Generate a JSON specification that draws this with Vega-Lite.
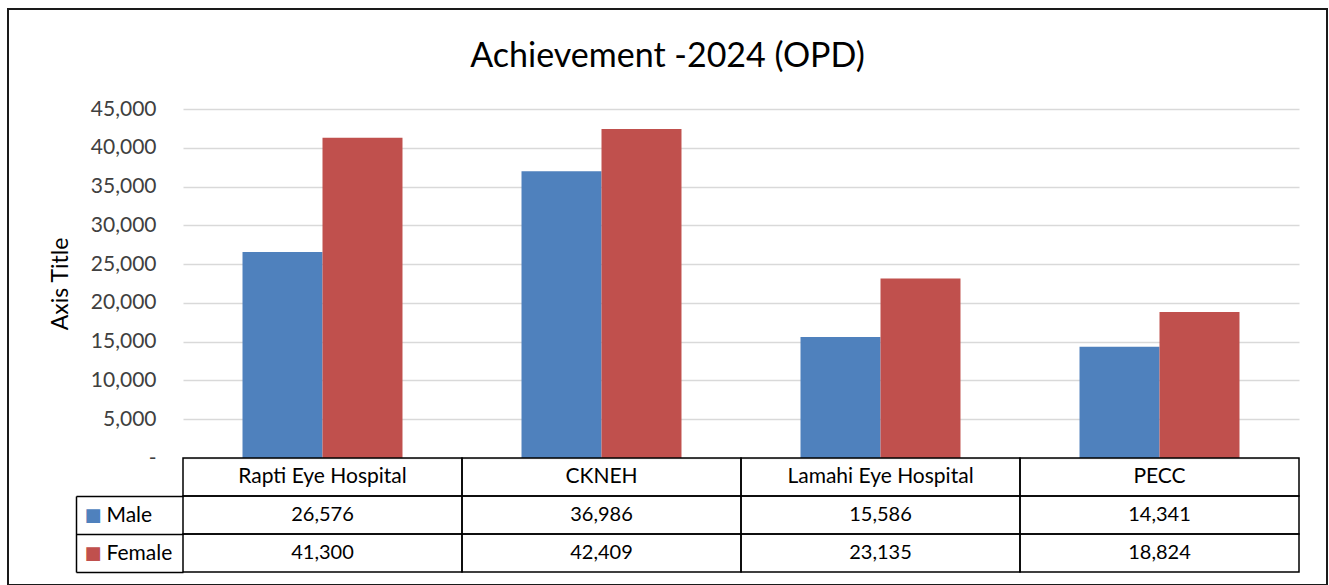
{
  "$schema": "https://vega.github.io/schema/vega-lite/v6.json",
  "autosize": "none",
  "width": 1319,
  "height": 576,
  "padding": {"left": 8, "top": 9, "right": 2, "bottom": 0},
  "background": "white",
  "config": {"view": {"stroke": "#1a1a1a", "strokeWidth": 2}, "font": "Lato"},
  "title": {"text": "Achievement -2024 (OPD)", "font": "Lato", "fontSize": 34, "fontWeight": "normal", "color": "#000000", "anchor": "middle", "frame": "group", "baseline": "alphabetic", "offset": -103},
  "data": {"values": [
    {"hospital": "Rapti Eye Hospital", "gender": "Male", "value": 26576},
    {"hospital": "CKNEH", "gender": "Male", "value": 36986},
    {"hospital": "Lamahi Eye Hospital", "gender": "Male", "value": 15586},
    {"hospital": "PECC", "gender": "Male", "value": 14341},
    {"hospital": "Rapti Eye Hospital", "gender": "Female", "value": 41300},
    {"hospital": "CKNEH", "gender": "Female", "value": 42409},
    {"hospital": "Lamahi Eye Hospital", "gender": "Female", "value": 23135},
    {"hospital": "PECC", "gender": "Female", "value": 18824}
  ]},
  "resolve": {"scale": {"y": "independent"}, "axis": {"y": "independent"}},
  "layer": [
    {
      "mark": {"type": "bar"},
      "encoding": {
        "x": {"field": "hospital", "type": "nominal", "sort": ["Rapti Eye Hospital", "CKNEH", "Lamahi Eye Hospital", "PECC"],
          "scale": {"domain": ["Rapti Eye Hospital", "CKNEH", "Lamahi Eye Hospital", "PECC"], "range": [175, 1291], "paddingInner": 0, "paddingOuter": 0},
          "axis": null},
        "xOffset": {"field": "gender", "type": "nominal", "sort": ["Male", "Female"], "scale": {"domain": ["Male", "Female"], "paddingInner": 0, "paddingOuter": 0.744}},
        "y": {"field": "value", "type": "quantitative",
          "scale": {"domain": [0, 45000], "range": [449, 100], "nice": false},
          "axis": {"orient": "left", "offset": -175, "values": [0, 5000, 10000, 15000, 20000, 25000, 30000, 35000, 40000, 45000], "format": ",.0f", "labelExpr": "datum.value == 0 ? '-\u00a0\u00a0\u00a0' : datum.label", "ticks": false, "tickSize": 0, "domain": false, "grid": true, "gridColor": "#d9d9d9", "gridWidth": 1.5, "labelFont": "Lato", "labelFontSize": 21, "labelColor": "#404040", "labelPadding": 27, "title": "Axis Title", "titleFont": "Lato", "titleFontSize": 23, "titleFontWeight": "normal", "titleColor": "#000000", "titlePadding": 18}},
        "color": {"field": "gender", "type": "nominal", "scale": {"domain": ["Male", "Female"], "range": ["#4f81bd", "#c0504d"]}, "legend": null}
      }
    },
    {
      "mark": {"type": "rect", "fill": "#ffffff", "fillOpacity": 0, "stroke": "#000000", "strokeWidth": 1.5},
      "encoding": {
        "x": {"field": "hospital", "type": "nominal", "sort": ["Rapti Eye Hospital", "CKNEH", "Lamahi Eye Hospital", "PECC"],
          "scale": {"domain": ["Rapti Eye Hospital", "CKNEH", "Lamahi Eye Hospital", "PECC"], "range": [175, 1291], "paddingInner": 0, "paddingOuter": 0}, "axis": null},
        "y": {"field": "gender", "type": "nominal", "sort": ["Male", "Female"],
          "scale": {"domain": ["Male", "Female"], "range": [487, 563], "paddingInner": 0, "paddingOuter": 0},
          "axis": {"orient": "left", "offset": -175, "zindex": 2, "title": null, "domain": false, "ticks": true, "tickBand": "extent", "tickSize": 107, "tickColor": "#000000", "tickWidth": 1.5, "labelAlign": "left", "labelBaseline": "middle", "labelPadding": -30, "labelFont": "Lato", "labelFontSize": 21, "labelColor": "#000000", "grid": false}}
      }
    },
    {
      "mark": {"type": "text", "font": "Lato", "fontSize": 20, "color": "#000000", "baseline": "middle", "align": "center"},
      "encoding": {
        "x": {"field": "hospital", "type": "nominal", "sort": ["Rapti Eye Hospital", "CKNEH", "Lamahi Eye Hospital", "PECC"],
          "scale": {"domain": ["Rapti Eye Hospital", "CKNEH", "Lamahi Eye Hospital", "PECC"], "range": [175, 1291], "paddingInner": 0, "paddingOuter": 0}, "axis": null},
        "y": {"field": "gender", "type": "nominal", "sort": ["Male", "Female"],
          "scale": {"domain": ["Male", "Female"], "range": [487, 563], "paddingInner": 0, "paddingOuter": 0},
          "axis": {"orient": "left", "offset": -68, "zindex": 2, "title": null, "domain": true, "domainColor": "#000000", "domainWidth": 1.5, "ticks": false, "tickSize": 0, "labelExpr": "'■'", "labelColor": {"condition": {"test": "datum.value === 'Male'", "value": "#4f81bd"}, "value": "#c0504d"}, "labelFont": "DejaVu Sans", "labelFontSize": 18, "labelAlign": "left", "labelBaseline": "middle", "labelPadding": -8, "grid": false}},
        "text": {"field": "value", "type": "quantitative", "format": ","}
      }
    },
    {
      "transform": [{"filter": "datum.gender === 'Male'"}],
      "mark": {"type": "rect", "fill": "#ffffff", "fillOpacity": 0, "stroke": "#000000", "strokeWidth": 1.5},
      "encoding": {
        "x": {"field": "hospital", "type": "nominal", "sort": ["Rapti Eye Hospital", "CKNEH", "Lamahi Eye Hospital", "PECC"],
          "scale": {"domain": ["Rapti Eye Hospital", "CKNEH", "Lamahi Eye Hospital", "PECC"], "range": [175, 1291], "paddingInner": 0, "paddingOuter": 0}, "axis": null},
        "y": {"datum": "Header", "type": "nominal", "scale": {"domain": ["Header"], "range": [449, 487], "paddingInner": 0, "paddingOuter": 0}, "axis": null}
      }
    },
    {
      "transform": [{"filter": "datum.gender === 'Male'"}],
      "mark": {"type": "text", "font": "Lato", "fontSize": 21, "color": "#000000", "baseline": "middle", "align": "center"},
      "encoding": {
        "x": {"field": "hospital", "type": "nominal", "sort": ["Rapti Eye Hospital", "CKNEH", "Lamahi Eye Hospital", "PECC"],
          "scale": {"domain": ["Rapti Eye Hospital", "CKNEH", "Lamahi Eye Hospital", "PECC"], "range": [175, 1291], "paddingInner": 0, "paddingOuter": 0}, "axis": null},
        "y": {"datum": "Header", "type": "nominal", "scale": {"domain": ["Header"], "range": [449, 487], "paddingInner": 0, "paddingOuter": 0}, "axis": null},
        "text": {"field": "hospital", "type": "nominal"}
      }
    }
  ]
}
